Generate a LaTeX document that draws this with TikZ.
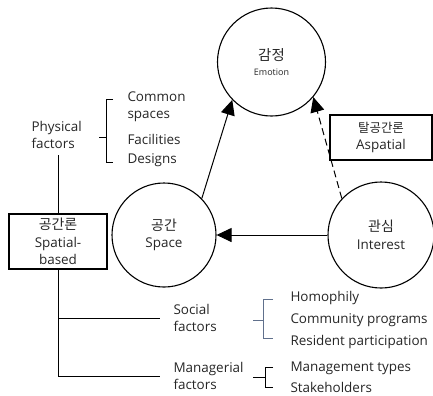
\documentclass[tikz,border=0pt]{standalone}
\usepackage{fontspec}
\setmainfont{Open Sans}
\newfontfamily\kr{Noto Sans CJK KR}
\usetikzlibrary{positioning,arrows.meta}
\definecolor{brk}{RGB}{96,112,140}

\begin{document}
\begin{tikzpicture}[x=1bp,y=-1bp,>={Triangle[length=15bp,width=14bp]},line width=1bp,
	every node/.style={font=\fontsize{13.5}{17.5}\selectfont,text=black!85},
	concept/.style={shape=circle,draw,line width=1.1bp,minimum size=108bp,inner sep=0pt,align=center},
	theory/.style={shape=rectangle,draw,line width=1.3bp,align=center,inner sep=2bp},
	factor/.style={align=left,inner sep=0pt,anchor=west},
	item/.style={align=left,inner sep=0pt,anchor=west}]
	\useasboundingbox (0,0) rectangle (433,395);
	% create the nodes
	\node[concept] (emotion) at (271.5,62) {{\kr\fontsize{14.5}{16}\selectfont 감정}\\[-2bp]{\fontsize{9}{12}\selectfont Emotion}};
	\node[concept,minimum size=104bp] (space) at (164,235) {{\kr\fontsize{14}{16}\selectfont 공간}\\Space};
	\node[concept,minimum size=106bp] (interest) at (381,235) {{\kr\fontsize{14}{16}\selectfont 관심}\\Interest};
	\node[theory,minimum width=98bp,minimum height=55bp] (spatial) at (58,241.5) {{\kr\fontsize{14}{16}\selectfont 공간론}\\Spatial-\\based};
	\node[theory,minimum width=102bp,minimum height=45bp] (aspatial) at (381,137.5) {{\kr\fontsize{12.5}{16}\selectfont 탈공간론}\\Aspatial};
	\node[factor] (physical) at (31,135) {Physical\\factors};
	\node[factor] (social) at (173,318) {Social\\factors};
	\node[factor] (managerial) at (173,376) {Managerial\\factors};
	\node[item] (common) at (127,107) {Common\\spaces};
	\node[item] (facilities) at (127,139) {Facilities};
	\node[item] (designs) at (127,160) {Designs};
	\node[item] (homophily) at (290,298) {Homophily};
	\node[item] (programs) at (290,320) {Community programs};
	\node[item] (participation) at (290,342) {Resident participation};
	\node[item] (types) at (290,368) {Management types};
	\node[item] (stakeholders) at (290,387) {Stakeholders};

	% connect the nodes
	\draw[->] (interest) to (space);
	\draw[->] (space.44) to (emotion.224);
	\draw[->,dash pattern=on 7bp off 4bp] (interest.137) to (emotion.320);
	\draw[shorten >=6bp] (spatial.north) to (spatial.north |- physical.south);
	\draw (spatial.south) |- ([xshift=-13bp]managerial.west);
	\draw (spatial.south |- social.west) to ([xshift=-13bp]social.west);

	% brackets
	\draw (113,99) -- (106,99) -- (106,162) -- (113,162) (99,137) -- (106,137);
	\draw[brk] (273,299) -- (263,299) -- (263,338) -- (273,338) (253,320) -- (263,320);
	\draw (273,367) -- (265,367) -- (265,387) -- (273,387) (253,377) -- (265,377);
\end{tikzpicture}
\end{document}
